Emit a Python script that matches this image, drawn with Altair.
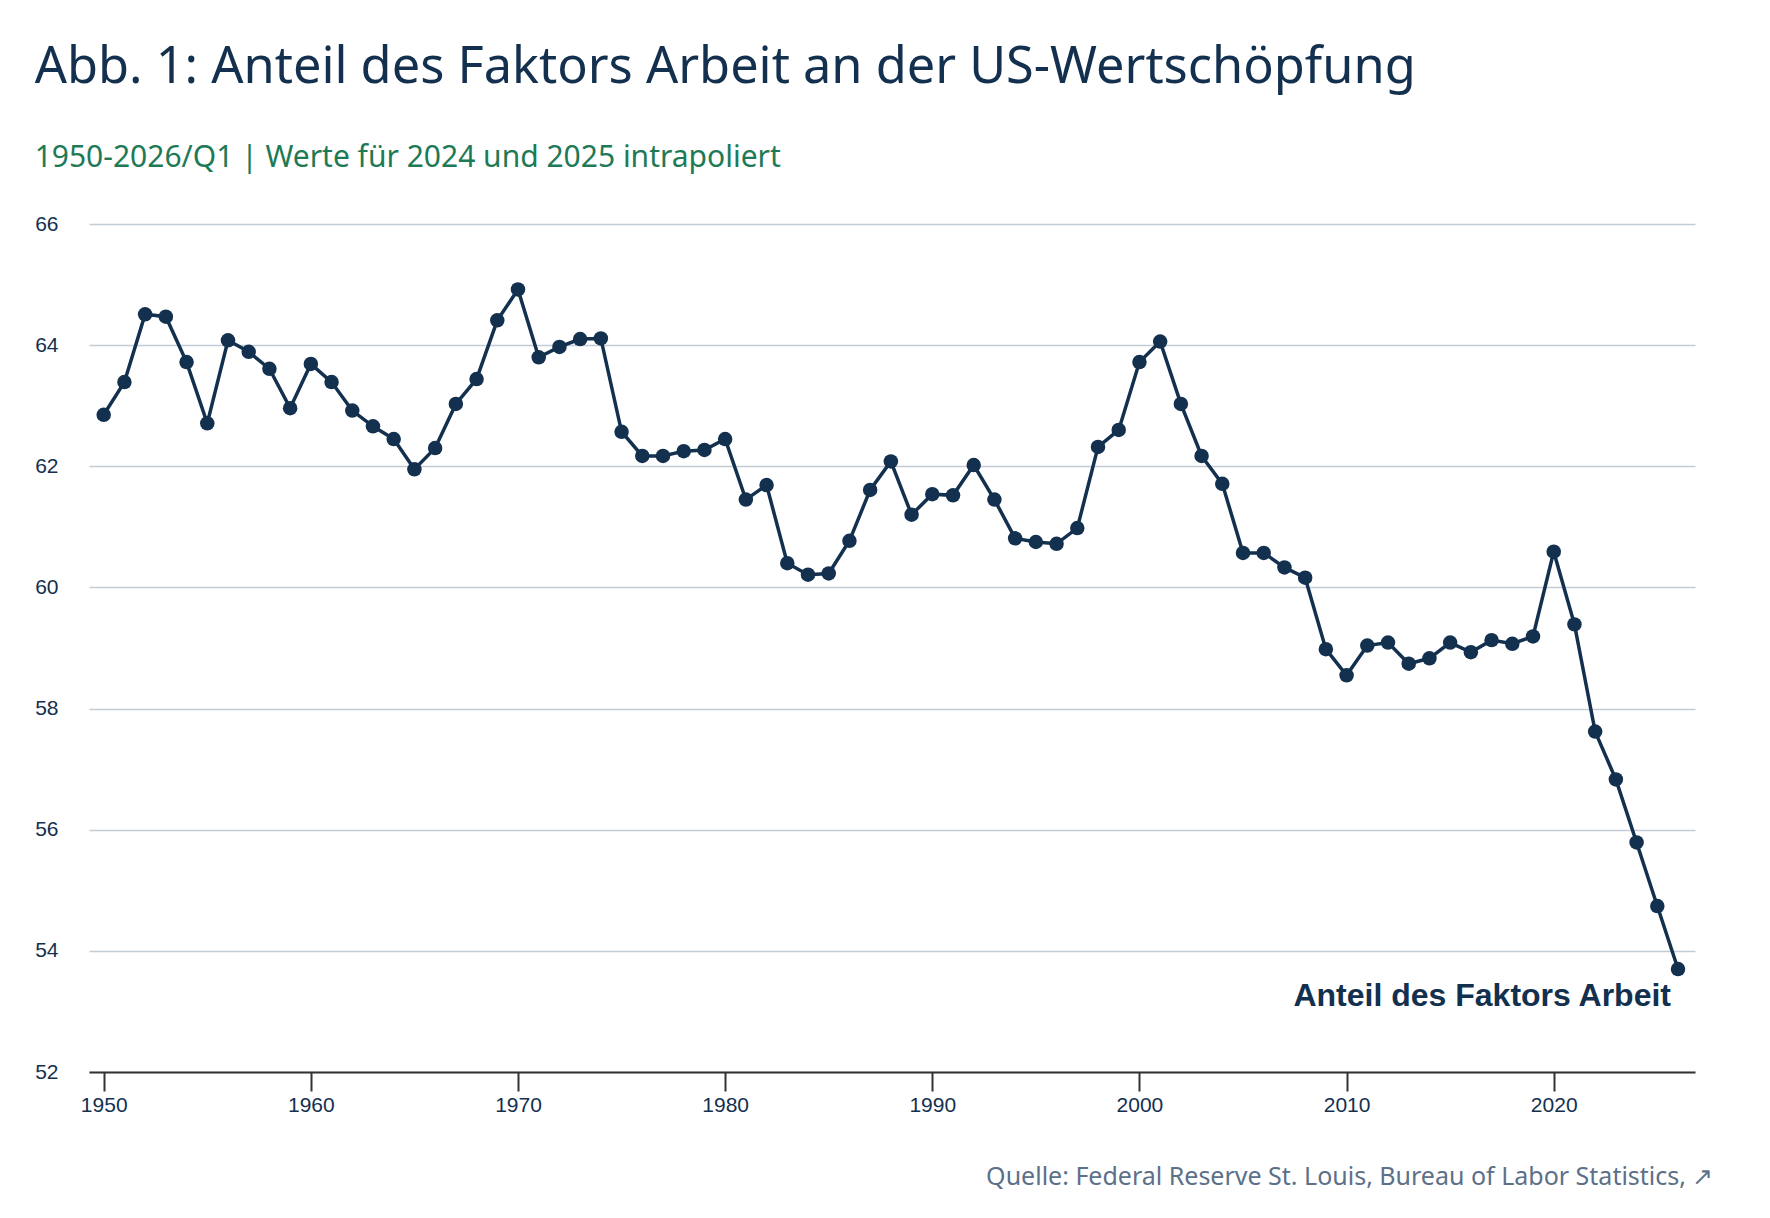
import altair as alt
import pandas as pd

years = list(range(1950, 2027))
values = [
    62.85, 63.39, 64.51, 64.47, 63.72, 62.71, 64.08, 63.89, 63.61, 62.96,  # 1950-1959
    63.69, 63.39, 62.92, 62.66, 62.45, 61.95, 62.30, 63.03, 63.44, 64.41,  # 1960-1969
    64.92, 63.80, 63.97, 64.10, 64.11, 62.57, 62.17, 62.17, 62.25, 62.27,  # 1970-1979
    62.45, 61.45, 61.69, 60.40, 60.21, 60.23, 60.77, 61.61, 62.08, 61.20,  # 1980-1989
    61.54, 61.52, 62.02, 61.45, 60.81, 60.75, 60.72, 60.98, 62.32, 62.60,  # 1990-1999
    63.72, 64.06, 63.03, 62.17, 61.71, 60.57, 60.57, 60.33, 60.16, 58.98,  # 2000-2009
    58.55, 59.04, 59.09, 58.74, 58.83, 59.09, 58.93, 59.13, 59.07, 59.19,  # 2010-2019
    60.59, 59.39, 57.62, 56.83, 55.79, 54.74, 53.70,                        # 2020-2026
]
x_ticks = [1950, 1960, 1970, 1980, 1990, 2000, 2010, 2020]
y_ticks = [52, 54, 56, 58, 60, 62, 64, 66]

title_text = "Abb. 1: Anteil des Faktors Arbeit an der US-Wertschöpfung"
subtitle_text = "1950-2026/Q1 | Werte für 2024 und 2025 intrapoliert"
series_label = "Anteil des Faktors Arbeit"
source_text = "Quelle: Federal Reserve St. Louis, Bureau of Labor Statistics, \u2197"

NAVY = "#13304f"
GREEN = "#1e7a56"
GRID = "#c3cbd6"
AXIS = "#333333"
SOURCE = "#5c7088"

W, H = 1606, 848

df = pd.DataFrame({"year": years, "value": values})
lab = pd.DataFrame({"year": [years[-1]], "value": [values[-1]], "label": [series_label]})

x_enc = alt.X(
    "year:Q",
    scale=alt.Scale(domain=[1949.29, 2026.82], nice=False, zero=False),
    axis=alt.Axis(
        values=x_ticks, format="d", grid=False,
        domainColor=AXIS, domainWidth=2, tickColor=AXIS, tickWidth=2, tickSize=19,
        labelFont="Liberation Sans", labelFontSize=21, labelColor=NAVY, labelPadding=3,
        title=source_text, titleFont="Noto Sans", titleFontSize=25, titleFontWeight="normal",
        titleColor=SOURCE, titleAlign="right", titleAnchor="end", titleBaseline="alphabetic",
        titleX=W + 18, titleY=112.5,
    ),
)
y_enc = alt.Y(
    "value:Q",
    scale=alt.Scale(domain=[52, 66], nice=False, zero=False),
    axis=alt.Axis(
        values=y_ticks, format="d", grid=True, gridColor=GRID, gridWidth=1.5,
        domain=False, ticks=False, tickSize=0,
        labelFont="Liberation Sans", labelFontSize=21, labelColor=NAVY, labelPadding=31,
        title=None,
    ),
)

base = alt.Chart(df)
line = base.mark_line(color=NAVY, strokeWidth=3.5).encode(x=x_enc, y=y_enc)
pts = base.mark_circle(color=NAVY, size=210, opacity=1).encode(x=x_enc, y=y_enc)
txt = alt.Chart(lab).mark_text(
    align="right", baseline="alphabetic", dx=-7, dy=37,
    font="Liberation Sans", fontWeight="bold", fontSize=32, color=NAVY,
).encode(x=x_enc, y=y_enc, text="label:N")

chart = (
    alt.layer(line, pts, txt)
    .properties(
        width=W, height=H,
        background="white",
        title=alt.TitleParams(
            text=title_text, subtitle=subtitle_text,
            anchor="start", frame="bounds",
            font="Noto Sans", fontSize=50.5, fontWeight="normal", color=NAVY,
            subtitleFont="Noto Sans", subtitleFontSize=30, subtitleColor=GREEN,
            subtitlePadding=50, offset=40,
        ),
        padding={"left": 26, "top": 34, "right": 20, "bottom": 10},
    )
    .configure_view(strokeWidth=0, strokeOpacity=0)
    .configure_axisX(grid=False)
)

chart.save("out.html", embed_options={"renderer": "svg", "actions": False})
